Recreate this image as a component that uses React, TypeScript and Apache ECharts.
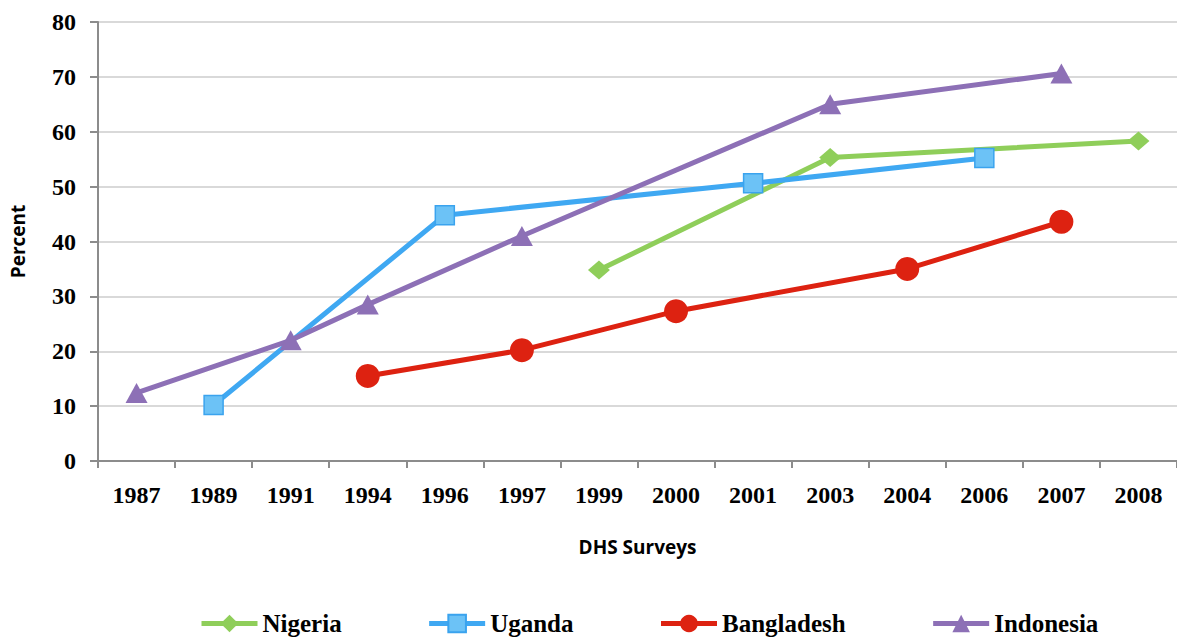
import React, { useEffect, useRef } from "react";
import * as echarts from "echarts";

const years = ["1987","1989","1991","1994","1996","1997","1999","2000","2001","2003","2004","2006","2007","2008"];
const nigeria =    [null, null, null, null, null, null, 34.8, null, null, 55.3, null, null, null, 58.3];
const uganda =     [null, 10.2, null, null, 44.8, null, null, null, 50.6, null, null, 55.2, null, null];
const bangladesh = [null, null, null, 15.5, null, 20.2, null, 27.3, null, null, 35.0, null, 43.6, null];
const indonesia =  [12.4, null, 22.0, 28.5, null, 41.0, null, null, null, 65.0, null, null, 70.6, null];
const yTicks = { min: 0, max: 80, interval: 10 };

const serif = "'Liberation Serif', 'Times New Roman', serif";
const sans = "'Open Sans', 'Noto Sans', sans-serif";

export default function App() {
  const ref = useRef<HTMLDivElement>(null);
  useEffect(() => {
    if (!ref.current) return;
    const chart = echarts.init(ref.current, null, { renderer: "svg" });
    const mk = (name: string, data: (number | null)[], color: string, symbol: string, size: any, extra: any = {}) => ({
      name,
      type: "line",
      data,
      connectNulls: true,
      symbol,
      symbolSize: size,
      lineStyle: { color, width: 5 },
      itemStyle: { color, ...extra },
      emphasis: { disabled: true },
      z: 3,
    });
    chart.setOption({
      animation: false,
      grid: { left: 96, right: -2, top: 22, bottom: 177, containLabel: false },
      legend: {
        left: 194,
        top: 606,
        itemWidth: 56,
        itemHeight: 22,
        itemGap: 85,
        lineStyle: { width: 5 },
        textStyle: { fontFamily: serif, fontWeight: "bold", fontSize: 25, color: "#000" },
        data: ["Nigeria", "Uganda", "Bangladesh", "Indonesia"],
      },
      xAxis: {
        type: "category",
        data: years,
        boundaryGap: true,
        name: "DHS Surveys",
        nameLocation: "middle",
        nameGap: 76,
        nameTextStyle: { fontFamily: sans, fontWeight: "bold", fontSize: 19, color: "#000" },
        axisLine: { lineStyle: { color: "#8c8c8c", width: 2 } },
        axisTick: { show: true, alignWithLabel: false, length: 7, lineStyle: { color: "#8c8c8c", width: 2 } },
        axisLabel: { margin: 22, fontFamily: serif, fontWeight: "bold", fontSize: 24, color: "#000", interval: 0 },
        splitLine: { show: false },
      },
      yAxis: {
        type: "value",
        min: yTicks.min,
        max: yTicks.max,
        interval: yTicks.interval,
        name: "Percent",
        nameLocation: "middle",
        nameGap: 71,
        nameTextStyle: { fontFamily: sans, fontWeight: "bold", fontSize: 19, color: "#000" },
        axisLine: { show: true, lineStyle: { color: "#8c8c8c", width: 2 } },
        axisTick: { show: true, length: 8, lineStyle: { color: "#8c8c8c", width: 2 } },
        axisLabel: { margin: 22, fontFamily: serif, fontWeight: "bold", fontSize: 24, color: "#000" },
        splitLine: { show: true, lineStyle: { color: "#d9d9d9", width: 2 } },
      },
      series: [
        mk("Nigeria", nigeria, "#8fce5a", "diamond", [22, 19]),
        mk("Uganda", uganda, "#3fa8f2", "rect", 19, { color: "#6cc2f6", borderColor: "#3aa3ee", borderWidth: 1.5 }),
        mk("Bangladesh", bangladesh, "#dd2211", "circle", 24),
        mk("Indonesia", indonesia, "#8d70b6", "triangle", [22, 20]),
      ],
    });
    return () => chart.dispose();
  }, []);
  return <div ref={ref} style={{ width: 1177, height: 638, position: "absolute", left: 0, top: 0, background: "#fff" }} />;
}
